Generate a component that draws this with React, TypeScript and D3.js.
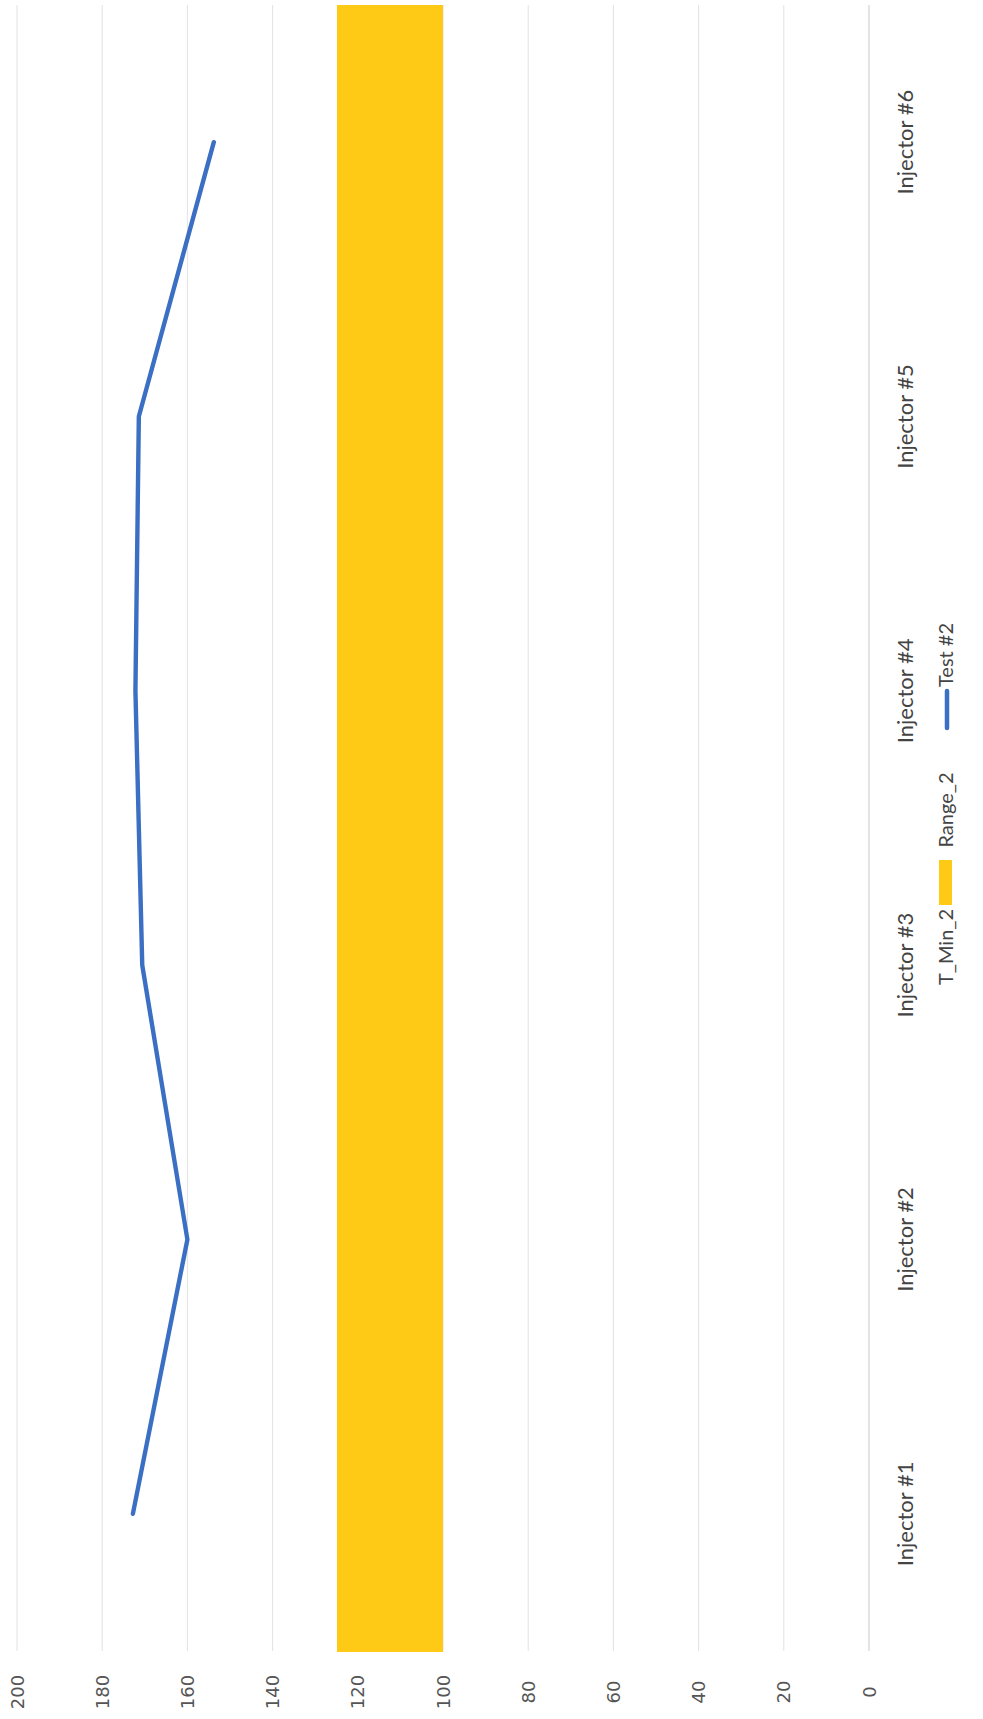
import React from "react";
import * as d3 from "d3";

const categories = ["Injector #1", "Injector #2", "Injector #3", "Injector #4", "Injector #5", "Injector #6"];
const tMin2 = [100, 100, 100, 100, 100, 100];
const range2 = [25, 25, 25, 25, 25, 25];
const test2 = [172.8, 160, 170.6, 172.2, 171.4, 153.8];
const valueTicks = [0, 20, 40, 60, 80, 100, 120, 140, 160, 180, 200];
const legendItems = ["T_Min_2", "Range_2", "Test #2"];

const W = 983;
const H = 1719;

export default function App() {
  // chart is rotated: values run right(0) -> left(200), categories bottom(#1) -> top(#6)
  const x = d3.scaleLinear().domain([0, 200]).range([869, 17]);
  const y = d3.scaleBand<string>().domain(categories).range([1651, 5]).padding(0);
  const bw = y.bandwidth();
  const cy = (c: string) => (y(c) as number) + bw / 2;

  const line = d3
    .line<number>()
    .x((d) => x(d))
    .y((_, i) => cy(categories[i]));

  const gold = "#FECA16";
  const blue = "#3B6FC3";
  const catFont = "Lato, 'Open Sans', sans-serif";
  const tickFont = "'DejaVu Sans', Verdana, sans-serif";

  // legend (reading bottom -> top)
  const legX = 945;
  const legendCenters = [947, 810, 655];

  return (
    <svg width={W} height={H} style={{ position: "absolute", left: 0, top: 0, background: "#fff" }}>
      <rect x={0} y={0} width={W} height={H} fill="#fff" />
      {/* gridlines */}
      {valueTicks.map((t) => (
        <line
          key={t}
          x1={x(t)}
          x2={x(t)}
          y1={5}
          y2={1651}
          stroke={t === 0 ? "#C9C9C9" : "#E2E2E2"}
          strokeWidth={1}
        />
      ))}
      {/* stacked bars: T_Min_2 (no fill) + Range_2 */}
      {categories.map((c, i) => (
        <rect
          key={c}
          x={x(tMin2[i] + range2[i])}
          y={y(c) as number}
          width={x(tMin2[i]) - x(tMin2[i] + range2[i])}
          height={bw + 0.5}
          fill={gold}
          shapeRendering="crispEdges"
        />
      ))}
      {/* line */}
      <path
        d={line(test2) as string}
        fill="none"
        stroke={blue}
        strokeWidth={4.4}
        strokeLinecap="round"
        strokeLinejoin="round"
      />
      {/* value tick labels */}
      {valueTicks.map((t) => (
        <text
          key={t}
          transform={`translate(${x(t)},${1692}) rotate(-90)`}
          textAnchor="middle"
          dominantBaseline="central"
          fontFamily={tickFont}
          fontSize={18}
          fill="#555"
        >
          {t}
        </text>
      ))}
      {/* category labels */}
      {categories.map((c) => (
        <text
          key={c}
          transform={`translate(${904},${cy(c)}) rotate(-90)`}
          textAnchor="middle"
          dominantBaseline="central"
          fontFamily={catFont}
          fontSize={22}
          fill="#444"
        >
          {c}
        </text>
      ))}
      {/* legend */}
      <g fontFamily={catFont} fontSize={20} fill="#444">
        <text
          transform={`translate(${legX},${legendCenters[0]}) rotate(-90)`}
          textAnchor="middle"
          dominantBaseline="central"
        >
          {legendItems[0]}
        </text>
        <rect x={legX - 6} y={860} width={13} height={45} fill={gold} />
        <text
          transform={`translate(${legX},${legendCenters[1]}) rotate(-90)`}
          textAnchor="middle"
          dominantBaseline="central"
        >
          {legendItems[1]}
        </text>
        <line x1={legX + 2} x2={legX + 2} y1={691} y2={728} stroke={blue} strokeWidth={4.5} strokeLinecap="round" />
        <text
          transform={`translate(${legX},${legendCenters[2]}) rotate(-90)`}
          textAnchor="middle"
          dominantBaseline="central"
        >
          {legendItems[2]}
        </text>
      </g>
    </svg>
  );
}
